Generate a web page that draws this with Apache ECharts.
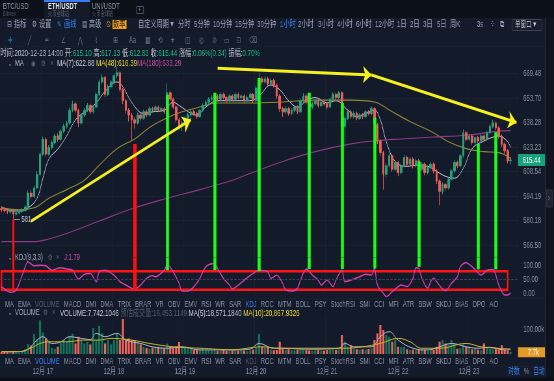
<!DOCTYPE html>
<html><head><meta charset="utf-8">
<script src="https://cdn.jsdelivr.net/npm/echarts@6/dist/echarts.min.js"></script>
<style>
html,body{margin:0;padding:0;width:554px;height:381px;overflow:hidden;background:#131a29;}
#chart{width:852px;height:381px;transform:scaleX(0.650235);transform-origin:0 0;}
</style></head><body><div id="chart"></div>
<script>
// ---------------- DATA ----------------
const categories = [];
for (let k = 0; k < 175; k++) { const h = 10 + k; const d = 16 + Math.floor(h / 24); const hh = h % 24; categories.push('12-' + d + ' ' + String(hh).padStart(2, '0') + ':00'); }

const opens = [587.0,586.5,586.0,585.2,585.8,584.0,584.6,585.5,586.0,588.0,
596.0,594.0,599.0,607.0,619.0,628.0,619.0,623.0,626.0,630.0,
628.0,633.0,636.0,638.0,646.0,650.0,646.0,638.0,643.0,646.0,
649.0,645.0,648.0,656.0,664.0,667.0,656.0,661.0,664.0,668.0,
670.0,659.0,652.0,646.0,643.0,640.0,638.0,643.0,641.0,645.0,
643.0,647.0,646.0,648.0,646.0,647.0,645.0,657.0,653.0,648.0,
640.0,636.0,638.0,641.0,643.0,645.0,644.0,642.0,646.0,649.0,
651.0,653.0,654.0,655.0,653.0,656.0,654.0,652.0,655.0,653.0,
656.0,654.0,655.0,652.0,654.0,656.0,652.0,660.0,666.0,664.0,
666.0,663.0,665.0,662.0,655.0,647.0,645.0,647.0,644.0,646.0,
648.0,645.0,652.0,655.0,651.0,648.0,650.0,652.0,649.0,651.0,
650.0,648.0,653.0,656.0,654.0,657.0,636.0,641.0,645.0,642.0,
644.0,641.0,643.0,642.0,645.0,644.0,647.0,637.0,627.0,620.0,
607.0,612.0,618.0,610.0,614.0,608.0,612.0,617.0,613.0,616.0,
612.0,615.0,610.0,613.0,608.0,611.0,613.0,609.0,603.0,597.0,
601.0,599.0,604.0,609.0,614.0,612.0,618.0,632.0,628.0,630.0,
626.0,629.0,627.0,630.0,628.0,632.0,636.0,638.0,635.0,630.0,
625.0,621.0,615.10];
const closes = [586.5,586.0,585.2,585.8,584.0,584.6,585.5,586.0,588.0,596.0,
594.0,599.0,607.0,619.0,628.0,619.0,623.0,626.0,630.0,628.0,
633.0,636.0,638.0,646.0,650.0,646.0,638.0,643.0,646.0,649.0,
645.0,648.0,656.0,664.0,667.0,656.0,661.0,664.0,668.0,670.0,
659.0,652.0,646.0,643.0,640.0,638.0,643.0,641.0,645.0,643.0,
647.0,646.0,648.0,646.0,647.0,645.0,657.0,653.0,648.0,640.0,
636.0,638.0,641.0,643.0,645.0,644.0,642.0,646.0,649.0,651.0,
653.0,654.0,655.0,653.0,656.0,654.0,652.0,655.0,653.0,656.0,
654.0,655.0,652.0,654.0,656.0,652.0,660.0,666.0,664.0,666.0,
663.0,665.0,662.0,655.0,647.0,645.0,647.0,644.0,646.0,648.0,
645.0,652.0,655.0,651.0,648.0,650.0,652.0,649.0,651.0,650.0,
648.0,653.0,656.0,654.0,657.0,636.0,641.0,645.0,642.0,644.0,
641.0,643.0,642.0,645.0,644.0,647.0,637.0,627.0,620.0,607.0,
612.0,618.0,610.0,614.0,608.0,612.0,617.0,613.0,616.0,612.0,
615.0,610.0,613.0,608.0,611.0,613.0,609.0,603.0,597.0,601.0,
599.0,604.0,609.0,614.0,612.0,618.0,632.0,628.0,630.0,626.0,
629.0,627.0,630.0,628.0,632.0,636.0,638.0,635.0,630.0,625.0,
621.0,615.10,615.44];
const lows = [585.0,584.8,583.9,584.1,581.0,582.8,583.9,584.6,585.2,587.2,
592.6,593.1,598.2,606.1,617.8,617.6,618.1,621.7,624.9,626.5,
627.2,631.8,634.6,637.1,644.7,644.5,635.5,637.0,641.8,644.9,
643.6,643.9,647.0,654.8,662.5,654.2,655.0,659.8,662.7,666.4,
657.5,649.8,643.9,639.0,627.0,634.5,637.0,639.6,640.1,641.7,
642.1,644.6,645.0,644.8,645.1,643.8,644.2,651.6,646.7,638.4,
633.8,633.0,636.9,639.8,641.9,642.6,640.7,641.2,645.1,647.9,
650.0,651.8,652.7,651.5,652.0,652.8,650.6,651.1,651.7,652.2,
652.9,652.8,650.4,650.9,652.8,650.5,651.2,659.1,662.2,662.9,
661.6,661.8,660.4,653.2,644.9,641.8,643.7,642.5,642.9,644.8,
643.6,644.1,650.9,649.6,646.4,646.9,648.8,647.6,647.9,648.7,
646.5,647.1,651.8,652.6,653.1,634.0,623.0,639.9,640.6,640.8,
639.7,639.9,640.5,641.1,642.7,643.0,635.4,625.1,617.6,598.0,
605.3,611.0,608.3,608.9,605.9,606.8,611.0,611.6,612.0,610.4,
610.9,608.5,608.8,606.4,606.9,609.8,607.6,601.2,589.0,595.3,
597.4,598.0,603.0,608.0,610.6,611.0,617.0,626.4,626.8,624.5,
625.0,625.6,626.0,626.5,627.0,631.0,634.8,633.6,628.4,623.3,
619.2,613.5,612.83];
const highs = [588.5,587.6,587.0,587.2,586.6,585.9,586.8,587.3,589.1,597.5,
598.0,600.4,608.9,620.5,629.6,629.2,624.5,627.4,631.3,631.6,
634.2,637.5,639.4,647.8,652.0,651.2,647.0,644.4,647.5,650.6,
650.2,649.3,657.7,665.6,669.0,668.1,662.4,665.3,669.5,674.0,
671.0,660.2,653.1,647.3,644.2,641.6,644.5,644.3,646.3,646.2,
648.4,648.1,649.5,649.0,648.3,648.0,663.0,658.2,654.1,649.0,
641.1,639.4,642.3,644.4,646.2,646.4,645.0,647.1,650.3,652.4,
654.2,655.4,656.6,656.1,657.5,657.2,655.0,656.3,656.0,657.4,
657.1,656.2,656.0,655.3,657.6,657.0,661.5,670.0,667.4,667.8,
667.2,666.4,666.1,663.0,656.1,648.2,648.4,648.0,647.2,649.3,
649.1,653.5,657.0,656.2,652.0,651.4,653.3,653.0,652.2,652.4,
651.0,654.2,657.4,657.1,658.3,658.0,642.1,646.2,646.0,645.3,
645.1,644.2,644.3,646.2,646.1,648.3,648.0,638.0,628.1,621.0,
613.4,619.5,619.0,615.3,615.0,613.2,618.6,618.0,617.2,617.0,
616.3,616.0,614.2,614.0,612.1,614.3,614.0,610.0,604.0,602.2,
602.0,605.3,610.2,615.4,615.1,619.3,634.0,633.1,631.4,631.0,
630.2,630.1,631.3,631.0,633.2,637.4,640.0,639.0,636.0,631.0,
626.0,622.0,617.13];
const volumes = [9000,11000,8000,10000,13000,9000,7000,12000,20000,42000,
35000,83000,60000,140000,90000,65000,55000,25000,22000,30000,
45000,58000,50000,75000,85000,44000,72000,55000,44000,50000,
40000,108000,58000,117000,86000,44000,58000,40000,58000,86000,
58000,146000,58000,65000,58000,58000,50000,40000,30000,25000,
22000,27000,30000,30000,28000,24000,44000,30000,30000,32000,
50000,30000,25000,24000,22000,18000,17000,16000,18000,14000,
16000,13000,15000,12000,14000,17000,13000,12000,15000,14000,
13000,16000,14000,12000,15000,18000,25000,83000,30000,28000,
26000,18000,16000,17000,51000,22000,18000,20000,16000,15000,
18000,22000,20000,16000,15000,14000,16000,17000,15000,14000,
16000,18000,20000,17000,19000,79000,51000,30000,37000,22000,
20000,18000,20000,19000,21000,24000,58000,86000,121000,100000,
79000,72000,51000,58000,30000,28000,30000,20000,17000,18000,
16000,20000,18000,17000,15000,16000,18000,30000,51000,58000,
44000,40000,58000,44000,22000,24000,40000,30000,30000,20000,
23000,18000,16000,44000,30000,22000,20000,23000,20000,37000,
18000,15000,7742.1046];
const ma7 = [[0,588],[3,586],[6,585.7],[9,587.5],[12,593],[14,604.7],[16,616],[19,622],[22,630],[25,640],[29,646],[32,650.6],[35,658],[39,664],[41,661],[43,654],[46,646],[48,644],[51,645],[55,646],[58,651],[60,649],[64,644],[66,643],[69,648],[73,652],[78,652],[84,652],[87,655],[91,662],[94,659],[97,652],[100,648],[103,652],[106,654],[110,650.6],[113,652],[117,646],[120,642],[123,644],[126,646],[128,640],[130,626.5],[133,614.6],[137,611.7],[140,612.3],[144,611.7],[147,608.7],[150,605.8],[153,604.7],[156,610.5],[159,622.3],[163,627],[166,629.3],[168,630],[171,626.5],[172,622.88]];
const ma48 = [[0,587.5],[6,586.4],[11,587.5],[16,593],[22,598],[28,603.5],[33,612.3],[39,622.3],[45,628.2],[50,635.3],[56,641.3],[61,645],[67,648],[73,650.6],[78,650.6],[84,650.6],[95,651.2],[106,652.4],[118,652.4],[126,651.2],[131,646.2],[138,638.9],[145,632.9],[151,626.5],[157,622.3],[163,620.5],[168,619.9],[172,616.39]];
const ma180 = [[0,568.5],[11,568.5],[16,570],[22,573],[33,580],[45,587.5],[56,593],[67,598],[78,603.5],[84,607.5],[95,614.6],[106,620.5],[118,625.2],[126,627],[135,628.2],[146,629.4],[157,630.5],[168,633],[172,633.29]];
const kdjJ = [[0,24],[2,8],[3,4],[5,12],[7,66],[9,114],[11,100],[13,102],[15,100],[17,84],[20,93],[22,88],[24,84],[26,52],[28,69],[30,72],[32,42],[33,78],[35,84],[38,66],[40,42],[42,30],[45,16],[47,30],[49,54],[51,64],[52,60],[55,84],[56,104],[58,78],[60,36],[61,8],[63,8],[65,24],[67,54],[69,96],[72,108],[73,90],[75,54],[77,30],[78,16],[80,30],[82,48],[85,72],[87,84],[90,78],[91,54],[93,66],[95,36],[96,12],[98,8],[100,18],[101,48],[103,88],[105,66],[107,48],[108,30],[110,48],[112,24],[113,48],[115,84],[116,42],[118,48],[121,60],[123,69],[125,66],[126,90],[127,30],[129,0],[130,-12],[132,6],[134,24],[135,30],[137,24],[139,54],[140,93],[141,90],[142,55],[144,19],[145,43],[146,55],[147,43],[149,15],[150,9],[152,36],[154,60],[155,96],[157,111],[158,105],[160,87],[162,66],[164,84],[166,87],[167,66],[168,30],[170,-6],[171,-6],[172,1.79]];
const volMa5 = [[0,9700],[6,10000],[9,20000],[12,58000],[14,72000],[17,44000],[20,50000],[23,72000],[27,65000],[30,60000],[32,86000],[35,72000],[39,86000],[42,58000],[47,44000],[51,30000],[56,24000],[61,30000],[67,17000],[78,17000],[84,20000],[87,44000],[92,24000],[94,24000],[104,20000],[114,24000],[116,44000],[119,30000],[125,30000],[128,72000],[131,93000],[134,58000],[139,24000],[144,17000],[148,30000],[152,44000],[157,30000],[161,24000],[165,28000],[170,17000],[172,18571.184]];
const volMa10 = [[0,9700],[6,10000],[10,25000],[13,44000],[16,51000],[22,51000],[28,58000],[33,58000],[37,65000],[44,58000],[50,44000],[58,30000],[67,24000],[78,18000],[88,30000],[93,24000],[116,24000],[122,30000],[128,44000],[134,65000],[138,51000],[142,24000],[148,24000],[157,44000],[162,30000],[172,20867.9326]];
const priceTicks = [566.50, 580.18, 594.19, 608.54, 623.23, 638.28, 653.70, 669.48];
const kdjTicks = [0, 50, 100];
const volTicks = [100000];
const estVolume = 16453.1149;
// annotations: [category index, price where line starts, J value where it ends]
const redMarks = [[4, 581, 13], [45, 625.2, 13]];
const greenMarks = [[56, 655.6, 84], [72, 657, 84], [87, 666.5, 80], [104, 657, 88], [115, 650.6, 88], [126, 641.3, 90], [141, 614.6, 96], [161, 625.2, 87], [167, 632.3, 87]];
const trendArrows = [[[10, 580.0], [64, 640.1]], [[73, 672.9], [125, 668.5]], [[125, 668.5], [174, 638.3]]];
const kdjBox = [[0, 80], [171, 13]];
const lowMark = [4, 581];
const indicatorTabs = ['MA','EMA','VOLUME','MACD','DMI','DMA','TRIX','BRAR','VR','OBV','EMV','RSI','WR','SAR','KDJ','ROC','MTM','BOLL','PSY','StochRSI','SMI','CCI','MFI','ATR','BBW','SKDJ','BIAS','DPO','AO'];
const periods = ['分时','5分钟','10分钟','15分钟','30分钟','1小时','2小时','3小时','4小时','6小时','12小时','1日','2日','3日','5日','周K'];

// ---------------- LAYOUT ----------------
const W = 852, S = 554 / W;
const X = sx => sx / S;
const FONT = "'Liberation Sans','Noto Sans CJK SC',sans-serif";
const SYM = "'DejaVu Sans','Noto Sans CJK SC',sans-serif";
const gridRight = W - X(518);
const UP = '#26a17c', DOWN = '#ef5b57', VUP = '#14715a', VDOWN = '#ef6459';
const GREY = '#8b93a6';
const last = closes.length - 1;

function txt(sx, y, text, color, size, font, extra) {
  return { type: 'text', x: X(sx), y: y, silent: true, z: 50,
    style: Object.assign({ text: text, fill: color, font: (size || 9) + 'px ' + (font || FONT), verticalAlign: 'middle', textVerticalAlign: 'middle' }, extra || {}) };
}
function rect(sx, y, sw, h, fill, stroke) {
  return { type: 'rect', silent: true, z: 40, shape: { x: X(sx), y: y, width: X(sw), height: h }, style: { fill: fill || 'none', stroke: stroke || null, lineWidth: 1 } };
}
const ctx = document.createElement('canvas').getContext('2d');
function measure(t, size) { ctx.font = size + 'px ' + FONT; return ctx.measureText(t).width; }

const g = [];
// top tab strip
g.push(rect(0, 0, 554, 18, '#0c1019'));
g.push(rect(44, 0, 46, 18, '#141a28'));
g.push(rect(44, 0, 46, 2, '#3a7cf5'));
g.push(txt(3, 7, 'BTC/USD', '#8f97a8', 9));
g.push(txt(3, 14.5, 'Bitmex', '#4b5366', 6.5));
g.push(txt(48, 7, 'ETH/USDT', '#e6e9ef', 9, FONT, { font: 'bold 9px ' + FONT }));
g.push(txt(48, 14.5, '火币全球站', '#596174', 6.5));
g.push(txt(92, 7, 'UNI/USDT', '#8f97a8', 9));
g.push(txt(92, 14.5, '火币全球站', '#596174', 6.5));
g.push(rect(136.5, 6.5, 7, 7, null, '#4b5366'));
g.push(txt(138.2, 10, '+', '#7c8496', 8));
// second toolbar row
const tools = [[7, '⊟', '指标', '#9aa1b1'], [32, '⚙', '设置', '#9aa1b1'], [57, '✎', '画线', '#3b82f6'], [82, '▤', '高级', '#9aa1b1']];
tools.forEach(t => { g.push(txt(t[0], 24.5, t[1], t[3], 8.5, SYM)); g.push(txt(t[0] + 7, 24.5, t[2], t[3], 9.5)); });
g.push(txt(106, 24.5, '⊙', '#f0a020', 8.5, SYM));
g.push(rect(112.5, 20, 14, 9, '#f0a020'));
g.push(txt(113, 24.5, '数率', '#1a1a1a', 9.5));
g.push(txt(138, 24.5, '自定义周期 ▾', '#9aa1b1', 9.5));
const periodX = [178, 194, 213, 235, 257, 280, 298, 318, 337, 356, 375, 397, 410, 423, 437, 450];
periods.forEach((p, i) => g.push(txt(periodX[i], 24.5, p, p === '1小时' ? '#3b82f6' : '#9aa1b1', 9.5)));
g.push(txt(477, 24.5, '3s', '#9aa1b1', 9));
g.push(txt(490, 24.5, '⁘', '#9aa1b1', 10, SYM));
g.push(txt(500, 24.5, '⧉', '#9aa1b1', 9, SYM));
g.push({ type: 'rect', silent: true, z: 40, shape: { x: X(512), y: 19.5, width: X(30), height: 11, r: 2 }, style: { fill: '#161d2c', stroke: '#3a4253', lineWidth: 1 } });
g.push(txt(515, 25, '单窗口 ▾', '#c8ccd6', 8.5));
// third toolbar row (drawing tools)
const drawIcons = ['✛', '╱', '═', '∠', '⋀', '⌇', '⊞', 'Aa', '▦', '⟲', '⌖', '◫', '◎', '⊘', '▭', '⊡', '⌫'];
const drawX = [8, 28, 45, 61, 78, 95, 113, 129, 145, 158, 171, 185, 199, 212, 224, 236, 249];
drawIcons.forEach((c, i) => g.push(txt(drawX[i], 41, c, i === 0 ? '#4a8cff' : '#6b7386', 8.5, SYM)));
// info line
const chg = closes[last] - opens[last];
const f2 = v => v.toFixed(2);
const LF = 9.5;
g.push({ type: 'text', x: 0.5, y: 53, silent: true, z: 50, style: { text:
  '{l|时间:2020-12-23 14:00 开:}{g|' + f2(opens[last]) + ' }{l|高:}{g|' + f2(highs[last]) + ' }{l|低:}{g|' + f2(lows[last]) + ' }{l|收:}{g|' + f2(closes[last]) +
  ' }{l|涨幅:}{g|' + f2(chg / opens[last] * 100) + '%(' + f2(chg) + ') }{l|振幅:}{g|' + f2((highs[last] - lows[last]) / opens[last] * 100) + '%}',
  verticalAlign: 'middle', textVerticalAlign: 'middle', font: LF + 'px ' + FONT,
  rich: { l: { fill: '#b9bfcc', fontSize: LF, fontFamily: FONT }, g: { fill: '#1fbf88', fontSize: LF, fontFamily: FONT } } } });
// MA legend
g.push(txt(8, 63.5, '⌄', '#8b93a6', 8, SYM));
g.push(txt(15, 63.5, 'MA', '#b9bfcc', 9));
g.push(txt(31, 63.5, '◉', '#5d6578', 8, SYM));
g.push(txt(41, 63.5, '⚙', '#5d6578', 8, SYM));
g.push(txt(50, 63.5, '×', '#5d6578', 9));
g.push({ type: 'text', x: X(57), y: 63.5, silent: true, z: 50, style: { text:
  '{a|MA(7):' + f2(ma7[ma7.length - 1][1]) + ' }{b|MA(48):' + f2(ma48[ma48.length - 1][1]) + '}{c|MA(180):' + f2(ma180[ma180.length - 1][1]) + '}',
  verticalAlign: 'middle', textVerticalAlign: 'middle', font: LF + 'px ' + FONT,
  rich: { a: { fill: '#cdd0da', fontSize: LF, fontFamily: FONT }, b: { fill: '#e8d83f', fontSize: LF, fontFamily: FONT }, c: { fill: '#c24aa2', fontSize: LF, fontFamily: FONT } } } });
// KDJ legend
g.push(txt(8, 257.5, '⌄', '#8b93a6', 8, SYM));
g.push(txt(15, 257.5, 'KDJ(9,3,3)', '#a3a9b8', 9));
g.push(txt(48, 257.5, '⚙', '#5d6578', 8, SYM));
g.push(txt(56, 257.5, '×', '#5d6578', 9));
g.push(txt(64, 257.5, 'J:' + f2(kdjJ[kdjJ.length - 1][1]), '#d14bb2', 9));
// volume legend
const fmtV = v => v.toLocaleString('en-US', { minimumFractionDigits: 4, maximumFractionDigits: 4 });
g.push(txt(8, 313, '⌄', '#8b93a6', 8, SYM));
g.push(txt(15, 313, 'VOLUME', '#a3a9b8', 9));
g.push(txt(43, 313, '⚙', '#5d6578', 8, SYM));
g.push(txt(52, 313, '×', '#5d6578', 9));
g.push({ type: 'text', x: X(60), y: 313, silent: true, z: 50, style: { text:
  '{a|VOLUME:' + fmtV(volumes[last]) + ' }{d|预估成交量:' + fmtV(estVolume) + ' }{a|MA(5):' + fmtV(volMa5[volMa5.length - 1][1]) + ' }{b|MA(10):' + fmtV(volMa10[volMa10.length - 1][1]) + '}',
  verticalAlign: 'middle', textVerticalAlign: 'middle', font: LF + 'px ' + FONT,
  rich: { a: { fill: '#c8ccd6', fontSize: LF, fontFamily: FONT }, d: { fill: '#555d70', fontSize: LF, fontFamily: FONT }, b: { fill: '#e8d83f', fontSize: LF, fontFamily: FONT } } } });
// indicator tab rows
const tabW = indicatorTabs.map(t => measure(t, 9));
const tabGap = (X(498) - X(5) - tabW.reduce((a, b) => a + b, 0)) / (indicatorTabs.length - 1);
function tabRow(y, active, dim) {
  let cx = X(5);
  indicatorTabs.forEach((t, i) => {
    const col = t === active ? '#3b82f6' : (t === dim ? '#555d70' : GREY);
    g.push({ type: 'text', x: cx, y: y, silent: true, z: 50, style: { text: t, fill: col, font: '9px ' + FONT, verticalAlign: 'middle', textVerticalAlign: 'middle' } });
    cx += tabW[i] + tabGap;
  });
}
tabRow(304.5, 'KDJ', 'VOLUME');
tabRow(362, 'VOLUME', 'KDJ');
// separators
g.push(rect(0, 298.5, 545, 0.6, '#1d2534'));
g.push(rect(0, 366.5, 545, 0.6, '#1d2534'));
g.push(rect(0, 46.5, 545, 0.6, '#1d2534'));
// bottom-right scale options
g.push(txt(508, 371.5, '对数', '#3b82f6', 9));
g.push(txt(524, 371.5, '%', '#8b93a6', 9));
g.push(txt(533, 371.5, '自动', '#3b82f6', 9));
// right strip
g.push(rect(545, 18, 9, 360, '#0e131d'));
g.push(rect(545, 18, 0.8, 360, '#262e3e'));
g.push(rect(546.5, 190, 6, 17, '#1c2332', '#2d3546'));
g.push(txt(548, 198.5, '›', '#8b93a6', 9));
g.push(rect(0, 377.5, 554, 4, '#0a0e16'));

// ---------------- CHART ----------------
const splitX = { show: true, interval: (i, v) => String(v).endsWith(' 00:00'), lineStyle: { color: '#1a2131', width: 1 } };
function xAx(gi, showLabel) {
  return { type: 'category', gridIndex: gi, data: categories, boundaryGap: true,
    axisLine: { show: false }, axisTick: { show: false }, splitLine: splitX,
    axisLabel: showLabel ? { show: true, interval: (i, v) => String(v).endsWith(' 00:00'), formatter: v => '12月 ' + v.slice(3, 5), color: GREY, fontSize: 9, fontFamily: FONT, margin: 13 } : { show: false } };
}
const axisLbl = (vals, fmt) => ({ customValues: vals, formatter: fmt, color: GREY, fontSize: 9, fontFamily: FONT, margin: 8 });
const hidden = { color: 'rgba(0,0,0,0)', width: 0 };

const mainLines = [];
redMarks.forEach((m, k) => mainLines.push([{ coord: [m[0], m[1]], lineStyle: { color: '#ff1010', width: k === 0 ? 3 : 5.4, type: 'solid' } }, { coord: [m[0], 559.8] }]));
greenMarks.forEach(m => mainLines.push([{ coord: [m[0], m[1]], lineStyle: { color: '#18ff18', width: 4.6, type: 'solid' } }, { coord: [m[0], 559.8] }]));
trendArrows.forEach(a => mainLines.push([{ coord: a[0], symbol: 'none', lineStyle: { color: '#f5f01e', width: 3, type: 'solid' } }, { coord: a[1], symbol: 'arrow', symbolSize: 13 }]));
mainLines.push({ yAxis: closes[last], symbol: 'none', lineStyle: hidden,
  label: { show: true, position: 'end', distance: 0, formatter: closes[last].toFixed(2), color: '#ffffff', backgroundColor: '#17a27d', padding: [2, 7, 1, 7], fontSize: 9, fontFamily: FONT } });

const kdjLines = [{ yAxis: 50, symbol: 'none', lineStyle: { type: 'dashed', color: '#3a4254', width: 1 } }];
redMarks.forEach((m, k) => kdjLines.push([{ coord: [m[0], 130], symbol: 'none', lineStyle: { color: '#ff1010', width: k === 0 ? 3 : 5.4, type: 'solid' } }, { coord: [m[0], m[2]], symbol: 'none' }]));
greenMarks.forEach(m => kdjLines.push([{ coord: [m[0], 130], symbol: 'none', lineStyle: { color: '#18ff18', width: 4.6, type: 'solid' } }, { coord: [m[0], m[2]], symbol: 'none' }]));

const lineS = (data, xi, yi, color, w) => ({ type: 'line', xAxisIndex: xi, yAxisIndex: yi, data: data, smooth: 0.4, symbol: 'none', silent: true, lineStyle: { color: color, width: w || 1 }, z: 3 });

const option = {
  animation: false,
  backgroundColor: '#131a29',
  grid: [
    { left: 0, right: gridRight, top: 64, height: 193.5 },
    { left: 0, right: gridRight, top: 257.5, height: 40.2 },
    { left: 0, right: gridRight, top: 315.6, height: 38.4 }
  ],
  xAxis: [xAx(0, false), xAx(1, false), xAx(2, true)],
  yAxis: [
    { type: 'log', logBase: 10, gridIndex: 0, position: 'right', min: 559.8, max: 675.7,
      axisLine: { show: false }, axisTick: { show: false, customValues: priceTicks },
      axisLabel: axisLbl(priceTicks, v => Number(v).toFixed(2)),
      splitLine: { show: true, lineStyle: { color: '#1a2131' } } },
    { type: 'value', gridIndex: 1, position: 'right', min: -16, max: 130,
      axisLine: { show: false }, axisTick: { show: false, customValues: kdjTicks },
      axisLabel: axisLbl(kdjTicks, v => Number(v).toFixed(2)), splitLine: { show: false } },
    { type: 'value', gridIndex: 2, position: 'right', min: 0, max: 160000,
      axisLine: { show: false }, axisTick: { show: false, customValues: volTicks },
      axisLabel: axisLbl(volTicks, v => (v / 1000).toFixed(2) + 'k'), splitLine: { show: false } }
  ],
  graphic: g,
  series: [
    { type: 'candlestick', xAxisIndex: 0, yAxisIndex: 0, barWidth: 3.2, z: 4,
      data: opens.map((o, i) => [o, closes[i], lows[i], highs[i]]),
      itemStyle: { color: UP, color0: DOWN, borderColor: UP, borderColor0: DOWN, borderWidth: 1 },
      markLine: { silent: true, symbol: ['none', 'none'], label: { show: false }, data: mainLines, z: 6 },
      markPoint: { silent: true, data: [{ coord: lowMark, symbol: 'rect', symbolSize: [0.1, 0.1],
        label: { show: true, position: 'right', distance: 1, formatter: '— ' + lowMark[1], color: '#c6cad4', fontSize: 9, fontFamily: FONT } }] } },
    lineS(ma7, 0, 0, '#c2c3dc', 1),
    lineS(ma48, 0, 0, '#8f8a36', 1.1),
    lineS(ma180, 0, 0, '#8c3a86', 1.1),
    Object.assign(lineS(kdjJ, 1, 1, '#d43fae', 1.4), { smooth: 0.3,
      markLine: { silent: true, symbol: ['none', 'none'], label: { show: false }, data: kdjLines },
      markArea: { silent: true, label: { show: false }, itemStyle: { color: 'rgba(0,0,0,0)', borderColor: '#ff1414', borderWidth: 2.4 },
        data: [[{ coord: kdjBox[0] }, { coord: kdjBox[1] }]] } }),
    { type: 'bar', xAxisIndex: 2, yAxisIndex: 2, barWidth: 3.2, silent: true,
      data: volumes.map((v, i) => ({ value: v, itemStyle: { color: closes[i] >= opens[i] ? VUP : VDOWN } })),
      markLine: { silent: true, symbol: ['none', 'none'], data: [{ yAxis: volumes[last], lineStyle: hidden,
        label: { show: true, position: 'end', distance: 0, formatter: (volumes[last] / 1000).toFixed(1) + 'k', color: '#ffffff', backgroundColor: '#e39b28', padding: [1, 15, 0, 15], fontSize: 9, fontFamily: FONT } }] } },
    lineS(volMa5, 2, 2, '#aeb3c8', 1),
    lineS(volMa10, 2, 2, '#c6b52e', 1)
  ]
};
const chart = echarts.init(document.getElementById('chart'), null, { width: W, height: 381 });
chart.setOption(option);
</script></body></html>
